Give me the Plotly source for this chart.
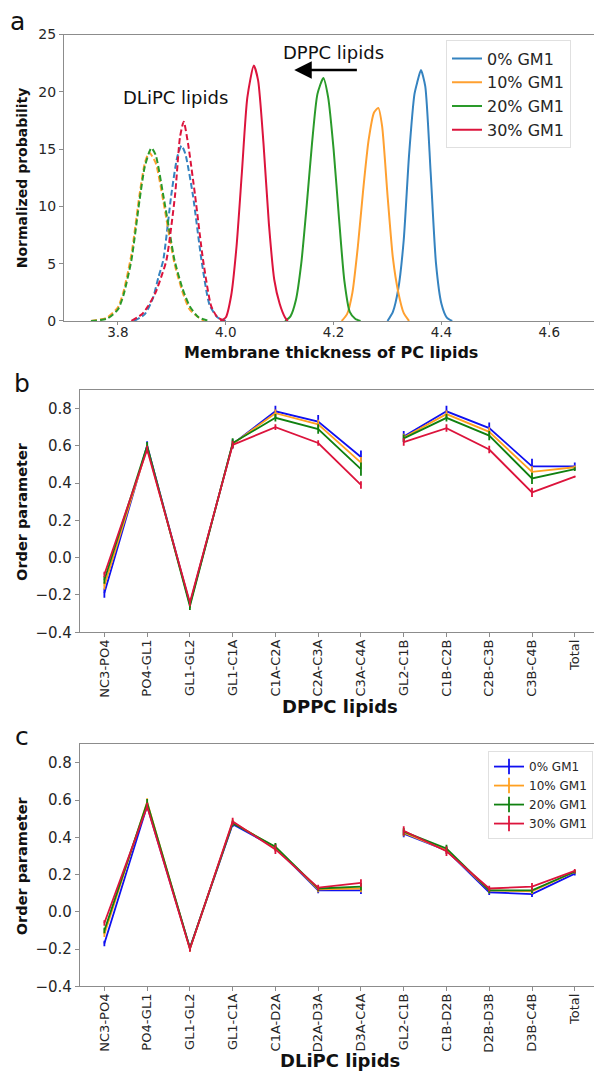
import plotly.graph_objects as go

FONT = "DejaVu Sans"
TXT = "#262626"

# ---------------- panel a: membrane thickness distributions ----------------
series_names = ["0% GM1", "10% GM1", "20% GM1", "30% GM1"]
colors_a = ["#3583c0", "#ffa030", "#2a9a2a", "#dc143c"]

# DPPC lipids (solid curves)
dppc_x = [
    [4.30, 4.31, 4.32, 4.33, 4.34, 4.35, 4.355, 4.362, 4.37, 4.38, 4.39, 4.40, 4.41, 4.42],
    [4.215, 4.225, 4.235, 4.245, 4.255, 4.265, 4.275, 4.283, 4.29, 4.30, 4.31, 4.32, 4.33, 4.34],
    [4.11, 4.12, 4.13, 4.14, 4.15, 4.16, 4.17, 4.181, 4.19, 4.20, 4.21, 4.22, 4.23, 4.24, 4.25],
    [3.99, 4.00, 4.01, 4.02, 4.03, 4.04, 4.052, 4.06, 4.07, 4.08, 4.09, 4.10, 4.11, 4.115],
]
dppc_y = [
    [0, 0.8, 2.8, 7.0, 14.5, 19.8, 20.8, 21.9, 20.5, 13.0, 5.0, 1.5, 0.3, 0],
    [0, 0.6, 2.5, 6.5, 11.5, 15.8, 18.2, 18.6, 17.0, 11.0, 5.5, 2.5, 0.7, 0],
    [0, 0.4, 1.8, 5.0, 10.0, 15.5, 19.8, 21.2, 19.5, 15.0, 9.0, 3.5, 0.8, 0.2, 0],
    [0, 0.3, 2.2, 6.5, 13.0, 19.5, 22.3, 21.0, 15.5, 8.5, 3.6, 1.5, 0.3, 0],
]

# DLiPC lipids (dashed curves)
dlipc_x = [
    [3.83, 3.85, 3.865, 3.875, 3.884, 3.899, 3.91, 3.918, 3.925, 3.939, 3.955, 3.970, 3.985, 4.0],
    [3.75, 3.78, 3.80, 3.81, 3.825, 3.84, 3.85, 3.858, 3.87, 3.884, 3.895, 3.905, 3.92, 3.933, 3.95, 3.96],
    [3.75, 3.78, 3.80, 3.81, 3.825, 3.84, 3.85, 3.862, 3.87, 3.884, 3.895, 3.905, 3.92, 3.933, 3.95, 3.97],
    [3.825, 3.845, 3.856, 3.87, 3.88, 3.89, 3.906, 3.915, 3.922, 3.93, 3.943, 3.958, 3.973, 3.985, 4.0],
]
dlipc_y = [
    [0, 0.6, 2.0, 3.8, 5.3, 11.0, 14.3, 15.3, 14.6, 11.0, 5.3, 1.4, 0.3, 0],
    [0, 0.3, 1.2, 2.5, 5.8, 11.0, 13.8, 14.7, 13.8, 10.5, 7.5, 5.0, 2.5, 1.0, 0.3, 0],
    [0, 0.2, 1.0, 2.2, 5.3, 10.5, 13.5, 15.1, 14.5, 11.0, 8.0, 5.3, 2.8, 1.3, 0.3, 0],
    [0, 0.6, 1.3, 2.5, 3.8, 5.3, 11.0, 16.0, 17.4, 15.5, 11.0, 5.3, 1.3, 0.3, 0],
]

# ---------------- panels b/c: order parameters ----------------
colors_bc = ["#1010f0", "#ffa020", "#108010", "#dc143c"]

dppc_bonds = ["NC3-PO4", "PO4-GL1", "GL1-GL2", "GL1-C1A", "C1A-C2A", "C2A-C3A",
              "C3A-C4A", "GL2-C1B", "C1B-C2B", "C2B-C3B", "C3B-C4B", "Total"]
dppc_order = [
    [-0.19, 0.60, -0.25, 0.61, 0.785, 0.73, 0.54, 0.65, 0.785, 0.695, 0.49, 0.49],
    [-0.15, 0.59, -0.25, 0.61, 0.775, 0.715, 0.51, 0.645, 0.77, 0.675, 0.46, 0.485],
    [-0.12, 0.60, -0.26, 0.615, 0.75, 0.69, 0.475, 0.64, 0.75, 0.655, 0.425, 0.475],
    [-0.09, 0.58, -0.24, 0.605, 0.70, 0.615, 0.39, 0.62, 0.695, 0.58, 0.35, 0.435],
]
dppc_err = [
    [0.025, 0.025, 0.02, 0.025, 0.03, 0.035, 0.035, 0.03, 0.03, 0.03, 0.04, 0.02],
    [0.02, 0.02, 0.02, 0.02, 0.02, 0.025, 0.03, 0.02, 0.02, 0.025, 0.03, 0.01],
    [0.02, 0.02, 0.02, 0.025, 0.02, 0.025, 0.035, 0.02, 0.02, 0.025, 0.03, 0.01],
    [0.015, 0.02, 0.02, 0.02, 0.015, 0.015, 0.02, 0.02, 0.02, 0.02, 0.025, 0.005],
]

dlipc_bonds = ["NC3-PO4", "PO4-GL1", "GL1-GL2", "GL1-C1A", "C1A-D2A", "D2A-D3A",
               "D3A-C4A", "GL2-C1B", "C1B-D2B", "D2B-D3B", "D3B-C4B", "Total"]
dlipc_order = [
    [-0.17, 0.57, -0.195, 0.47, 0.345, 0.115, 0.115, 0.42, 0.33, 0.105, 0.095, 0.205],
    [-0.12, 0.59, -0.20, 0.48, 0.345, 0.12, 0.125, 0.425, 0.33, 0.115, 0.11, 0.215],
    [-0.10, 0.585, -0.195, 0.475, 0.35, 0.125, 0.135, 0.43, 0.34, 0.115, 0.115, 0.215],
    [-0.06, 0.565, -0.20, 0.485, 0.335, 0.13, 0.155, 0.435, 0.325, 0.125, 0.135, 0.22],
]
dlipc_err = [
    [0.015, 0.02, 0.015, 0.015, 0.02, 0.015, 0.02, 0.02, 0.02, 0.015, 0.015, 0.01],
    [0.015, 0.02, 0.015, 0.015, 0.02, 0.015, 0.02, 0.02, 0.02, 0.015, 0.015, 0.01],
    [0.015, 0.02, 0.015, 0.015, 0.02, 0.015, 0.02, 0.02, 0.02, 0.015, 0.015, 0.01],
    [0.015, 0.02, 0.015, 0.02, 0.025, 0.015, 0.02, 0.025, 0.025, 0.015, 0.02, 0.01],
]

# split point between the sn-1 (A) and sn-2 (B) chain segments
CHAIN_SPLIT = 7

fig = go.Figure()

# panel a traces
for name, c, xs, ys in zip(series_names, colors_a, dppc_x, dppc_y):
    fig.add_trace(go.Scatter(x=xs, y=ys, mode="lines", name=name,
                             line=dict(color=c, width=2, shape="spline", smoothing=0.6),
                             xaxis="x", yaxis="y", legend="legend"))
for name, c, xs, ys in zip(series_names, colors_a, dlipc_x, dlipc_y):
    fig.add_trace(go.Scatter(x=xs, y=ys, mode="lines", name=name, showlegend=False,
                             line=dict(color=c, width=2, dash="6px,3px", shape="spline", smoothing=0.6),
                             xaxis="x", yaxis="y"))


def add_order(bonds, order, err, xa, ya):
    for c, vals, e in zip(colors_bc, order, err):
        for seg in (slice(0, CHAIN_SPLIT), slice(CHAIN_SPLIT, None)):
            fig.add_trace(go.Scatter(
                x=bonds[seg], y=vals[seg], mode="lines", showlegend=False,
                line=dict(color=c, width=1.8),
                error_y=dict(type="data", array=e[seg], color=c, thickness=1.8, width=0),
                xaxis=xa, yaxis=ya))


add_order(dppc_bonds, dppc_order, dppc_err, "x2", "y2")
add_order(dlipc_bonds, dlipc_order, dlipc_err, "x3", "y3")

# legend entries for panel c (line with error-bar tick)
for name, c in zip(series_names, colors_bc):
    fig.add_trace(go.Scatter(x=[None], y=[None], mode="lines+markers", name=name,
                             line=dict(color=c, width=1.8),
                             marker=dict(symbol="line-ns-open", size=11, color=c,
                                         line=dict(color=c, width=1.8)),
                             xaxis="x3", yaxis="y3", legend="legend2"))

H, W = 1076, 594


def ydom(top_px, bot_px):
    return [1 - bot_px / H, 1 - top_px / H]


def axis_style(size, ticklen=4):
    return dict(showline=True, linecolor="#8c8c8c", linewidth=1.2, ticks="outside",
                ticklen=ticklen, tickcolor="#8c8c8c", showgrid=False, zeroline=False,
                tickfont=dict(family=FONT, size=size, color=TXT))


fig.update_layout(
    width=W, height=H, margin=dict(l=0, r=0, t=0, b=0),
    paper_bgcolor="white", plot_bgcolor="white",
    font=dict(family=FONT, color=TXT),
    xaxis=dict(domain=[64 / W, 1], range=[3.70, 4.683], tickvals=[3.8, 4.0, 4.2, 4.4, 4.6],
               tickformat=".1f", mirror=True, anchor="y", ticklabelstandoff=-4,
               **axis_style(13.5, 3)),
    yaxis=dict(domain=ydom(27, 318), range=[0, 25], dtick=5, tick0=0, anchor="x",
               **axis_style(14)),
    xaxis2=dict(domain=[80 / W, 1], range=[-0.57, 11.45], type="category", tickangle=-90,
                mirror=True, anchor="y2", categoryorder="array", categoryarray=dppc_bonds,
                ticklabelstandoff=-3, **axis_style(13)),
    yaxis2=dict(domain=ydom(388, 634.3), range=[-0.4, 0.9], dtick=0.2, tick0=-0.4,
                tickformat=".1f", anchor="x2", **axis_style(15)),
    xaxis3=dict(domain=[80 / W, 1], range=[-0.57, 11.45], type="category", tickangle=-90,
                mirror=True, anchor="y3", categoryorder="array", categoryarray=dlipc_bonds,
                ticklabelstandoff=-3, **axis_style(13)),
    yaxis3=dict(domain=ydom(748, 994), range=[-0.4, 0.9], dtick=0.2, tick0=-0.4,
                tickformat=".1f", anchor="x3", **axis_style(15)),
    legend=dict(x=446 / W, y=1 - 33 / H, xanchor="left", yanchor="top",
                bgcolor="white", bordercolor="#e0e0e0", borderwidth=1,
                font=dict(family=FONT, size=16, color=TXT), tracegroupgap=0),
    legend2=dict(x=488 / W, y=1 - 755 / H, xanchor="left", yanchor="top",
                 bgcolor="white", bordercolor="#e0e0e0", borderwidth=1,
                 font=dict(family=FONT, size=12, color=TXT), itemwidth=30, tracegroupgap=0),
)


def paper_text(text, x, y, size, angle=0, color="#111"):
    return dict(text=text, x=x / W, y=1 - y / H, xref="paper", yref="paper",
                xanchor="center", yanchor="middle", textangle=angle, showarrow=False,
                font=dict(family=FONT, size=size, color=color))


ann = [
    # panel letters
    paper_text("a", 17, 14, 25),
    paper_text("b", 22, 382, 25),
    paper_text("c", 22, 740, 25),
    # axis titles
    paper_text("<b>Normalized probability</b>", 22, 173, 14, -90),
    paper_text("<b>Membrane thickness of PC lipids</b>", 331, 350, 16),
    paper_text("<b>Order parameter</b>", 22, 512, 14.5, -90),
    paper_text("<b>DPPC lipids</b>", 340, 710, 18),
    paper_text("<b>Order parameter</b>", 22, 872, 14.5, -90),
    paper_text("<b>DLiPC lipids</b>", 340, 1069, 18),
    # in-plot labels and arrow for panel a
    dict(text="DPPC lipids", x=4.2, y=23.4, xref="x", yref="y", showarrow=False,
         xanchor="center", yanchor="middle", font=dict(family=FONT, size=18, color="#111")),
    dict(text="DLiPC lipids", x=3.906, y=19.5, xref="x", yref="y", showarrow=False,
         xanchor="center", yanchor="middle", font=dict(family=FONT, size=18, color="#111")),
    dict(text="", x=4.127, y=21.9, ax=4.246, ay=21.9, xref="x", yref="y", axref="x", ayref="y",
         showarrow=True, arrowhead=2, arrowsize=1.4, arrowwidth=2.5, arrowcolor="black"),
]
fig.update_layout(annotations=ann)

fig.write_html("out.html")
